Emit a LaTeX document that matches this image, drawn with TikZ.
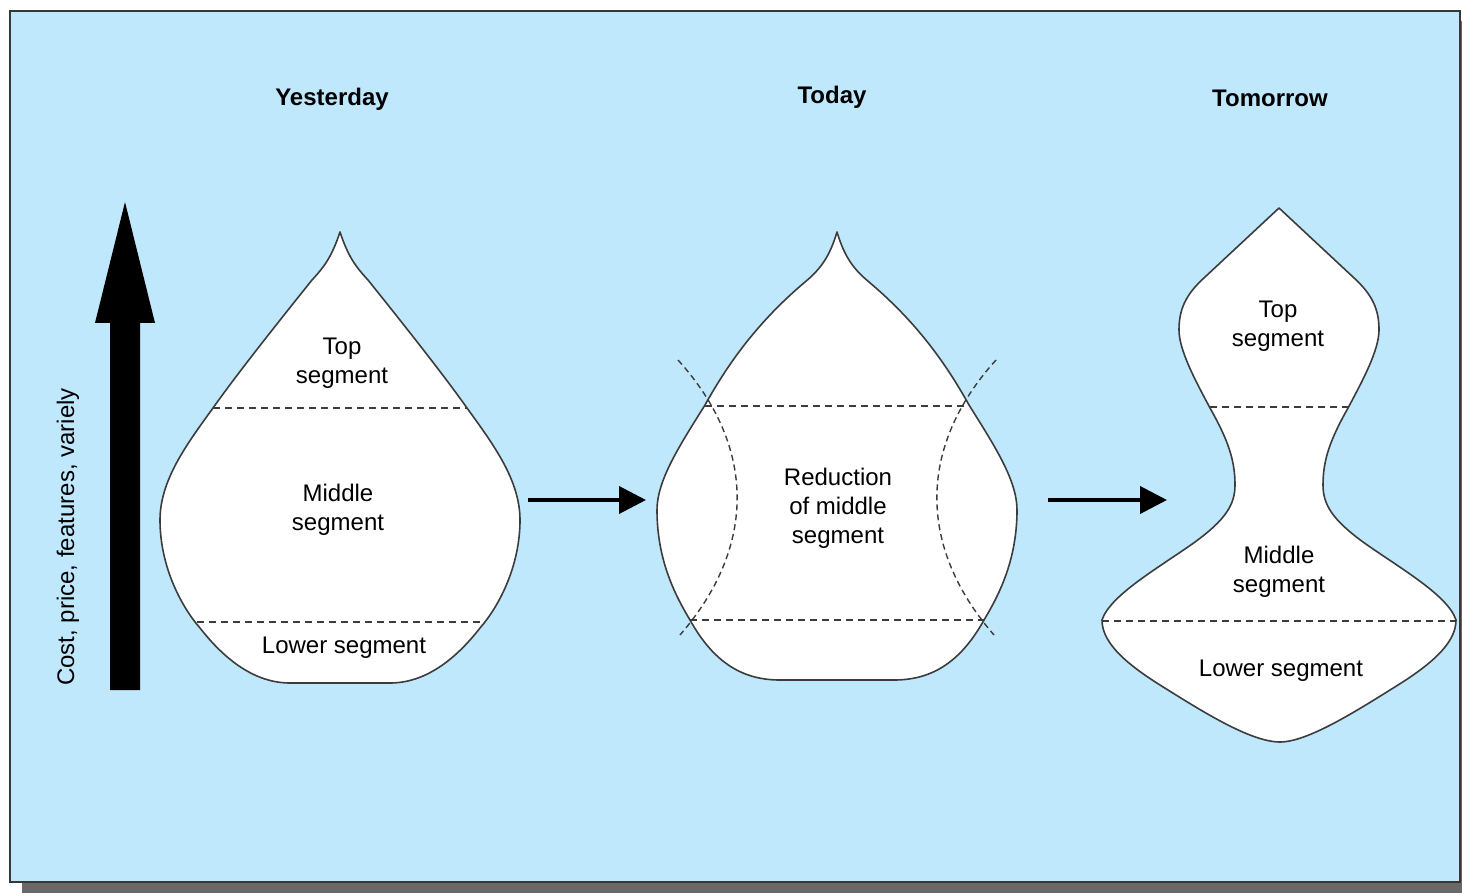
\documentclass[tikz,border=0pt]{standalone}
\usepackage{fontspec}
\setmainfont{Liberation Sans}
\usetikzlibrary{arrows.meta}
\definecolor{bgblue}{RGB}{192,232,253}
\definecolor{shadowgray}{RGB}{105,105,105}
\definecolor{framegray}{RGB}{55,55,55}
\definecolor{outlinegray}{RGB}{60,60,60}
\begin{document}
\begin{tikzpicture}[x=1pt,y=-1pt,
  seg/.style={fill=white,draw=outlinegray,line width=1.6pt,line join=round},
  cut/.style={draw=outlinegray,line width=1.7pt,dash pattern=on 7pt off 5pt},
  lbl/.style={font=\fontsize{24}{29}\selectfont,align=center,inner sep=0pt},
  ttl/.style={font=\fontsize{24}{29}\selectfont\bfseries,inner sep=0pt},
  flow/.style={line width=4pt,-{Triangle[length=27pt,width=27pt]}}]
\useasboundingbox (0,0) rectangle (1462,893);
% frame with shadow
\fill[shadowgray] (22,21) rectangle (1480,900);
\draw[fill=bgblue,draw=framegray,line width=2.5pt] (10,11) rectangle (1460,882);

% titles
\node[ttl] (tyest) at (332,99) {Yesterday};
\node[ttl] (ttoday) at (832,97) {Today};
\node[ttl] (ttom) at (1270,98) {Tomorrow};

% vertical axis arrow
\fill[black] (110,690) -- (110,323) -- (95,323) -- (125,202) -- (155,323) -- (140,323) -- (140,690) -- cycle;
\node[lbl,rotate=90] (axis) at (68,537) {Cost, price, features, variely};

% Yesterday shape
\path[seg] (340,232) .. controls (332,256) and (325,266) .. (312,280)
  .. controls (280,320) and (240,370) .. (213,408)
  .. controls (187,444) and (160,480) .. (160,520)
  .. controls (160,565) and (180,605) .. (200,628)
  .. controls (225,660) and (255,683) .. (290,683)
  -- (390,683)
  .. controls (425,683) and (455,660) .. (480,628)
  .. controls (500,605) and (520,565) .. (520,520)
  .. controls (520,480) and (493,444) .. (467,408)
  .. controls (440,370) and (400,320) .. (368,280)
  .. controls (355,266) and (348,256) .. (340,232) -- cycle;
\draw[cut] (213,408) -- (467,408);
\draw[cut] (197,622) -- (483,622);
\node[lbl] (ytop) at (342,363) {Top\\segment};
\node[lbl] (ymid) at (338,510) {Middle\\segment};
\node[lbl] (ylow) at (344,648) {Lower segment};

% Today shape
\path[seg] (837,232) .. controls (830,255) and (822,268) .. (805,282)
  .. controls (760,320) and (730,360) .. (705,405)
  .. controls (680,445) and (657,480) .. (657,510)
  .. controls (657,560) and (675,595) .. (690,620)
  .. controls (715,665) and (745,680) .. (780,680)
  -- (894,680)
  .. controls (929,680) and (959,665) .. (984,620)
  .. controls (999,595) and (1017,560) .. (1017,510)
  .. controls (1017,480) and (994,445) .. (969,405)
  .. controls (944,360) and (914,320) .. (869,282)
  .. controls (852,268) and (844,255) .. (837,232) -- cycle;
\draw[cut] (705,406) -- (969,406);
\draw[cut] (690,620) -- (984,620);
\draw[cut,line width=1.4pt,dash pattern=on 6pt off 4pt] (678,360) .. controls (755,445) and (758,545) .. (680,635);
\draw[cut,line width=1.4pt,dash pattern=on 6pt off 4pt] (996,360) .. controls (919,445) and (916,545) .. (994,635);
\node[lbl] (tred) at (838,508) {Reduction\\of middle\\segment};

% Tomorrow shape
\path[seg] (1279,208) -- (1205,277)
  .. controls (1185,295) and (1179,310) .. (1179,330)
  .. controls (1179,350) and (1195,380) .. (1210,408)
  .. controls (1228,440) and (1235,460) .. (1235,485)
  .. controls (1235,505) and (1225,520) .. (1195,542)
  .. controls (1160,567) and (1110,595) .. (1102,620)
  .. controls (1102,640) and (1120,660) .. (1160,685)
  .. controls (1200,710) and (1250,742) .. (1280,742)
  .. controls (1308,742) and (1358,710) .. (1398,685)
  .. controls (1438,660) and (1456,640) .. (1456,620)
  .. controls (1448,595) and (1398,567) .. (1363,542)
  .. controls (1333,520) and (1323,505) .. (1323,485)
  .. controls (1323,460) and (1330,440) .. (1348,408)
  .. controls (1363,380) and (1379,350) .. (1379,330)
  .. controls (1379,310) and (1373,295) .. (1353,277)
  -- (1279,208) -- cycle;
\draw[cut] (1210,407) -- (1348,407);
\draw[cut] (1102,621) -- (1456,621);
\node[lbl] (mtop) at (1278,326) {Top\\segment};
\node[lbl] (mmid) at (1279,572) {Middle\\segment};
\node[lbl] (mlow) at (1281,671) {Lower segment};

% flow arrows
\coordinate (a1s) at (528,500);
\coordinate (a1e) at (646,500);
\coordinate (a2s) at (1048,500);
\coordinate (a2e) at (1167,500);
\draw[flow] (a1s) -- (a1e);
\draw[flow] (a2s) -- (a2e);
\end{tikzpicture}
\end{document}
